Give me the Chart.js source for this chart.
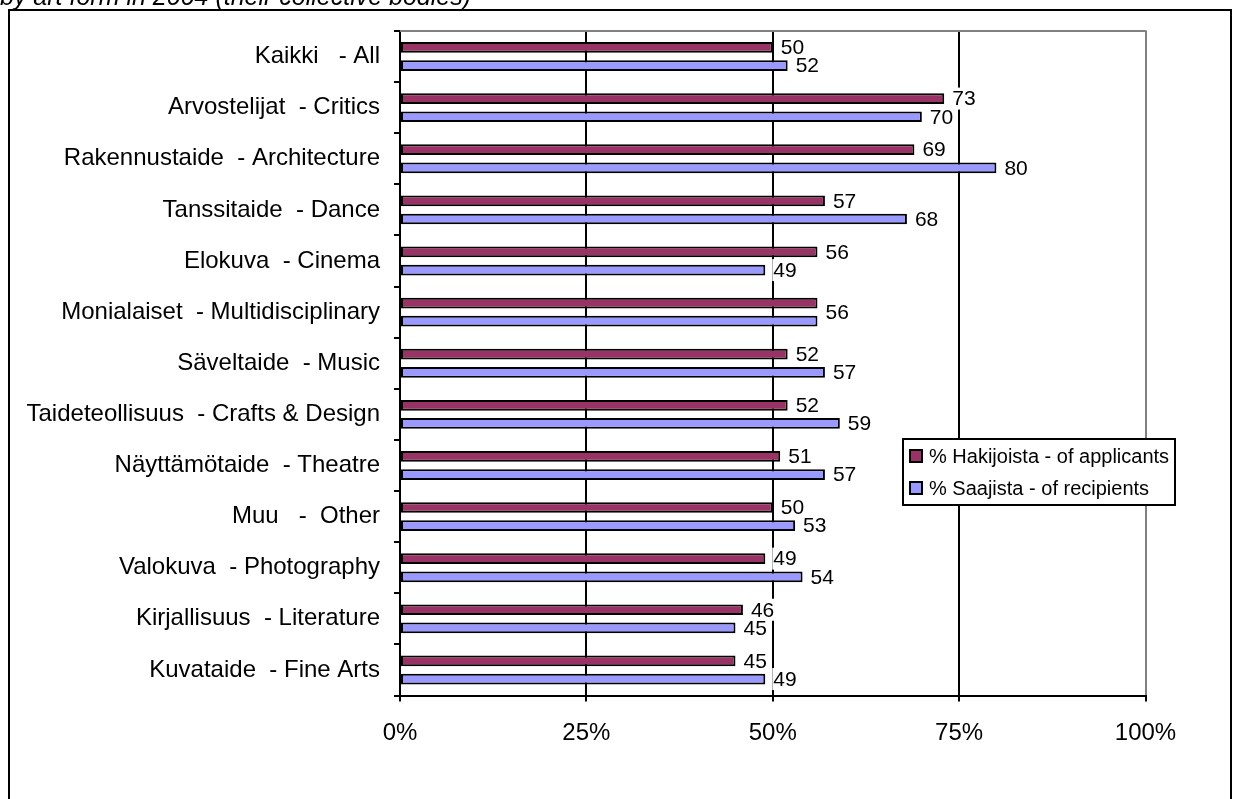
<!DOCTYPE html>
<html><head><meta charset="utf-8">
<script src="https://cdn.jsdelivr.net/npm/chart.js@4/dist/chart.umd.min.js"></script>
<style>html,body{margin:0;padding:0;background:#fff;overflow:hidden}canvas{display:block}</style>
</head><body>
<canvas id="c" width="1233" height="799"></canvas>
<script>
const categories = ["Kaikki   - All", "Arvostelijat  - Critics", "Rakennustaide  - Architecture", "Tanssitaide  - Dance", "Elokuva  - Cinema", "Monialaiset  - Multidisciplinary", "Säveltaide  - Music", "Taideteollisuus  - Crafts & Design", "Näyttämötaide  - Theatre", "Muu   -  Other", "Valokuva  - Photography", "Kirjallisuus  - Literature", "Kuvataide  - Fine Arts"];
const applicants = [50, 73, 69, 57, 56, 56, 52, 52, 51, 50, 49, 46, 45];
const recipients = [52, 70, 80, 68, 49, 56, 57, 59, 57, 53, 54, 45, 49];
const xTicks = [0, 25, 50, 75, 100];
const seriesLabels = ["% Hakijoista - of applicants", "% Saajista - of recipients"];
const seriesColors = ["#993366", "#9999FF"];
const titleText = "by art form in 2004 (their collective bodies)";

const FONT = '"Liberation Sans", Arial, sans-serif';

const framePlugin = {
  id: 'frame',
  beforeDraw(chart) {
    const ctx = chart.ctx;
    ctx.save();
    ctx.fillStyle = '#fff';
    ctx.fillRect(0, 0, chart.width, chart.height);
    ctx.fillStyle = '#000';
    ctx.font = 'italic 25px ' + FONT;
    ctx.textBaseline = 'alphabetic';
    ctx.textAlign = 'left';
    ctx.fillText(titleText, 0, 4.5);
    ctx.strokeStyle = '#000';
    ctx.lineWidth = 2;
    ctx.beginPath();
    ctx.moveTo(9, 830); ctx.lineTo(9, 10); ctx.lineTo(1231, 10); ctx.lineTo(1231, 830);
    ctx.stroke();
    ctx.restore();
  },
  beforeDatasetsDraw(chart) {
    const ctx = chart.ctx, a = chart.chartArea;
    ctx.save();
    ctx.strokeStyle = '#808080';
    ctx.lineWidth = 2;
    ctx.beginPath();
    ctx.moveTo(a.left, a.top); ctx.lineTo(a.right + 1, a.top);
    ctx.stroke();
    ctx.restore();
  }
};

const labelPlugin = {
  id: 'valueLabels',
  afterDatasetsDraw(chart) {
    const ctx = chart.ctx;
    ctx.save();
    ctx.font = '21px ' + FONT;
    ctx.textBaseline = 'middle';
    ctx.textAlign = 'left';
    const m0 = chart.getDatasetMeta(0), m1 = chart.getDatasetMeta(1);
    const d0 = chart.data.datasets[0].data, d1 = chart.data.datasets[1].data;
    categories.forEach((c, i) => {
      const items = [];
      const e0 = m0.data[i], e1 = m1.data[i];
      if (d0[i] === d1[i]) {
        items.push({ v: d0[i], x: Math.max(e0.x, e1.x), y: (e0.y + e1.y) / 2 });
      } else {
        items.push({ v: d0[i], x: e0.x, y: e0.y });
        items.push({ v: d1[i], x: e1.x, y: e1.y });
      }
      items.forEach(it => {
        const t = String(it.v);
        const w = ctx.measureText(t).width;
        const x = it.x + 8;
        ctx.fillStyle = '#fff';
        ctx.fillRect(x - 1, it.y - 11, w + 2, 22);
        ctx.fillStyle = '#000';
        ctx.fillText(t, x, it.y + 1);
      });
    });
    const L = 903, T = 439, R = 1175, B = 505;
    ctx.fillStyle = '#fff';
    ctx.fillRect(L, T, R - L, B - T);
    ctx.strokeStyle = '#000';
    ctx.lineWidth = 2;
    ctx.strokeRect(L, T, R - L, B - T);
    ctx.font = '20px ' + FONT;
    const rows = [456, 488];
    chart.data.datasets.forEach((ds, k) => {
      const cy = rows[k];
      ctx.fillStyle = ds.backgroundColor;
      ctx.fillRect(910, cy - 6, 12, 12);
      ctx.strokeStyle = '#000';
      ctx.lineWidth = 2;
      ctx.strokeRect(910, cy - 6, 12, 12);
      ctx.fillStyle = '#000';
      ctx.fillText(ds.label, 929, cy + 1);
    });
    ctx.restore();
  }
};

new Chart(document.getElementById('c'), {
  type: 'bar',
  data: {
    labels: categories,
    datasets: [
      { label: seriesLabels[0], data: applicants, backgroundColor: seriesColors[0], borderColor: '#000', borderWidth: 2, borderSkipped: false },
      { label: seriesLabels[1], data: recipients, backgroundColor: seriesColors[1], borderColor: '#000', borderWidth: 2, borderSkipped: false }
    ]
  },
  options: {
    indexAxis: 'y',
    responsive: false,
    animation: false,
    devicePixelRatio: 1,
    categoryPercentage: 0.711,
    barPercentage: 0.59,
    layout: { padding: { left: 10, top: 31, right: 87.5, bottom: 0 } },
    plugins: { legend: { display: false }, title: { display: false }, tooltip: { enabled: false } },
    scales: {
      x: {
        min: 0, max: 100,
        afterBuildTicks: s => { s.ticks = xTicks.map(v => ({ value: v })); },
        afterFit: s => { s.height = 103.5; },
        grid: {
          color: c => (c.tick && c.tick.value === 100) ? '#808080' : '#000',
          lineWidth: 2, drawTicks: true, tickLength: 6, tickColor: '#000', tickWidth: 2
        },
        border: { display: true, color: '#000', width: 2 },
        ticks: { color: '#000', font: { family: FONT, size: 24 }, padding: 17, maxRotation: 0, callback: v => v + '%' }
      },
      y: {
        afterFit: s => { s.width = 390; },
        grid: { display: true, drawOnChartArea: false, drawTicks: true, tickLength: 6, color: '#000', lineWidth: 2, offset: true },
        border: { display: true, color: '#000', width: 2 },
        ticks: { color: '#000', font: { family: FONT, size: 24 }, padding: 14, autoSkip: false }
      }
    }
  },
  plugins: [framePlugin, labelPlugin]
});
</script>
</body></html>
